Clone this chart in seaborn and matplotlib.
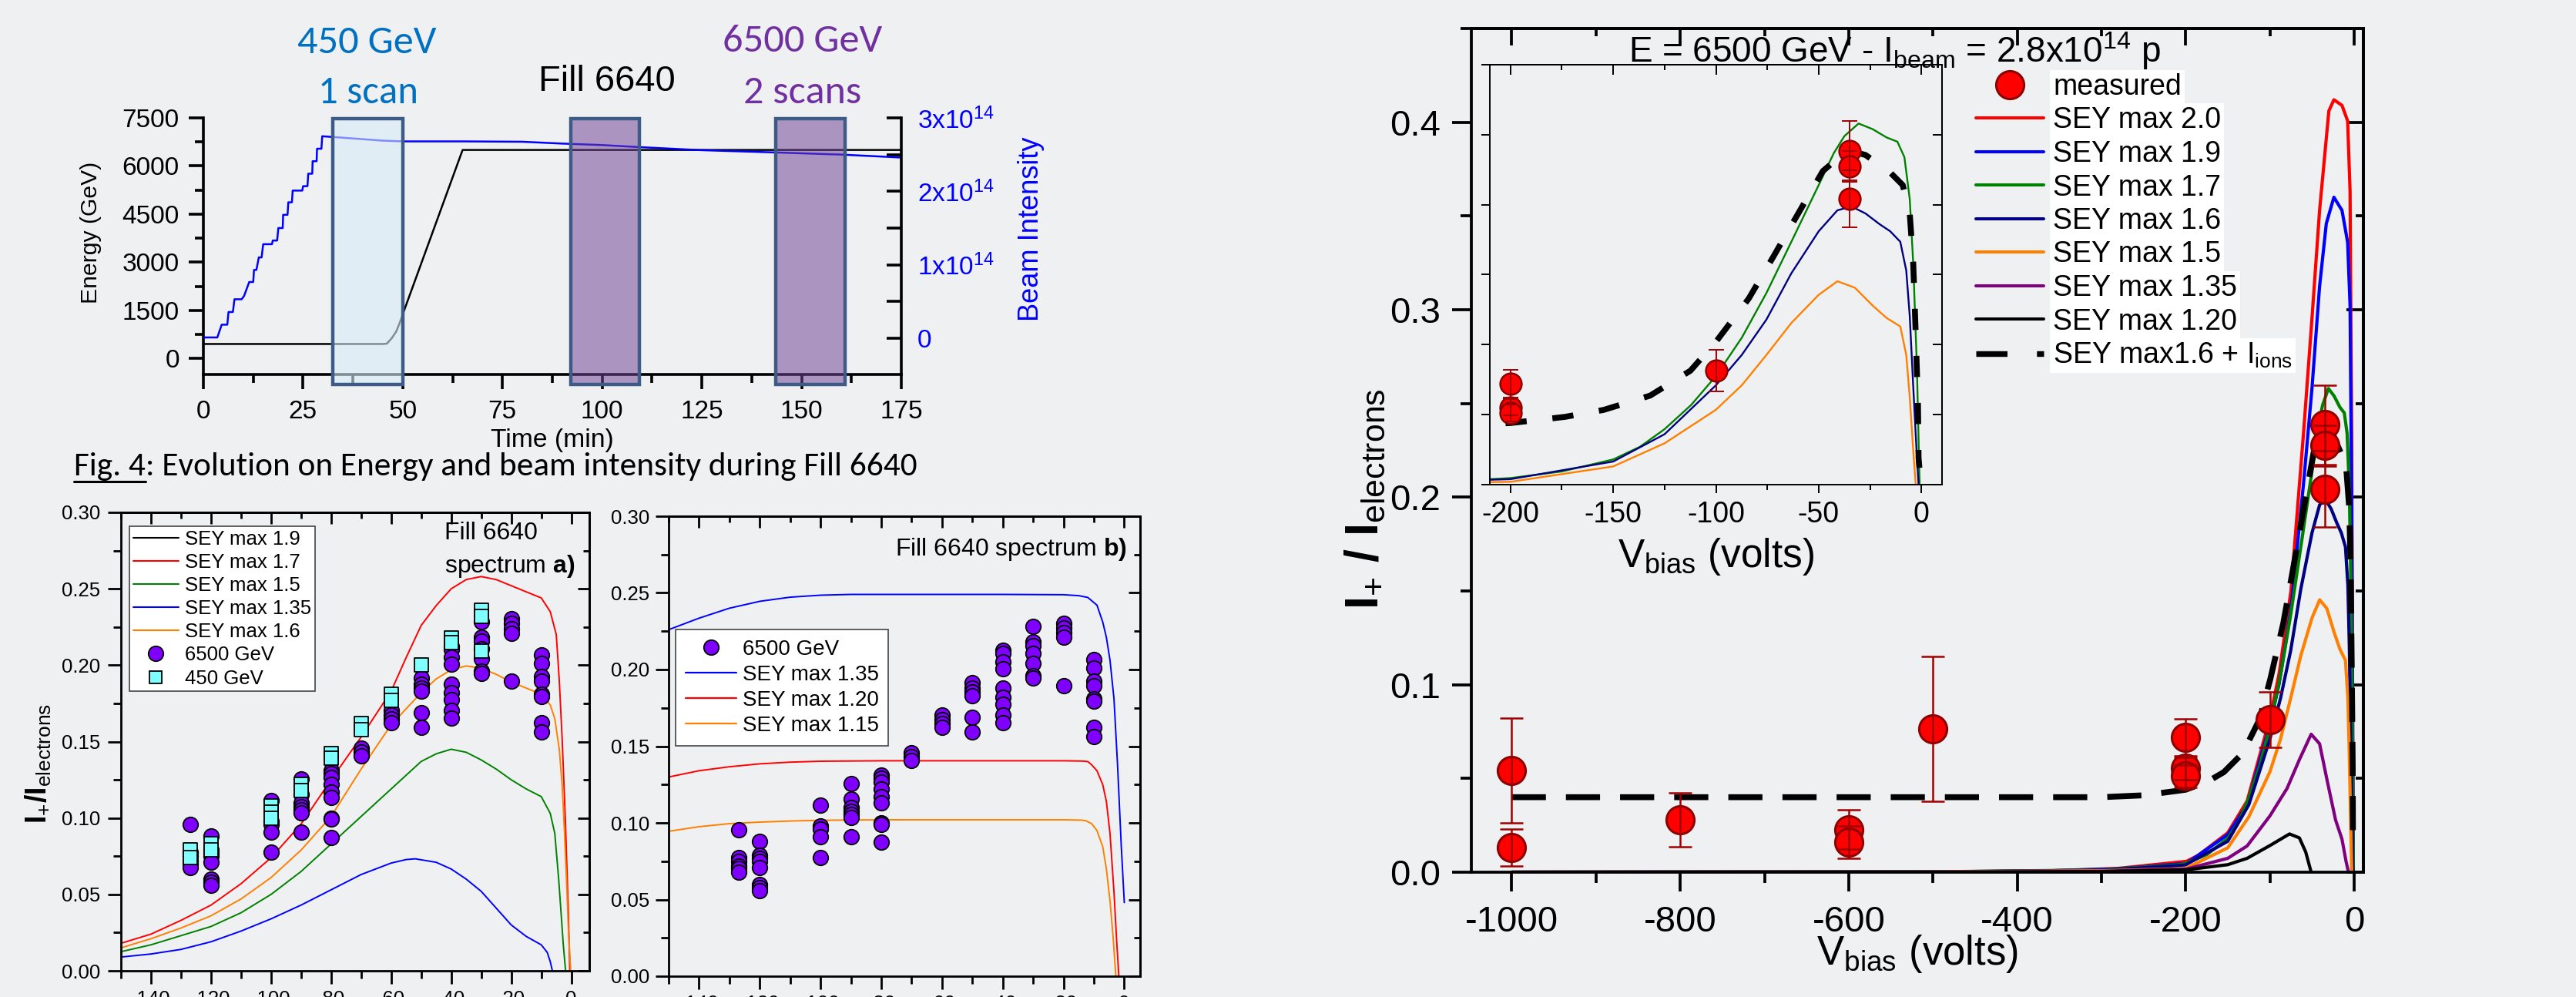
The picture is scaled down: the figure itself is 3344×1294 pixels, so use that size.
import numpy as np
import pandas as pd
import matplotlib
matplotlib.use('Agg')
import matplotlib.pyplot as plt
import seaborn as sns
from matplotlib import font_manager
from matplotlib.lines import Line2D
from matplotlib.patches import Rectangle
from matplotlib.ticker import MultipleLocator, FuncFormatter

# ======================= DATA =======================
# Fig. 4 (top-left): Fill 6640, energy and beam intensity vs time
energy_time_min = [0, 45, 46, 47.3, 48.4, 49.2, 50, 65, 175]
energy_gev = [450, 450, 460, 640, 850, 1100, 1380, 6500, 6500]
intensity_time_min = [0, 3.5, 4.6, 6.0, 6.3, 7.4, 7.8, 9.6, 10.2, 11.5,
                      12.5, 12.7, 13.3, 13.9, 14.6, 15.0, 17.2, 17.4, 18.5, 18.8,
                      19.9, 20.0, 21.1, 21.3, 22.2, 22.4, 24.8, 25.0, 26.1, 26.3,
                      27.3, 27.4, 28.4, 28.5, 29.6, 29.8, 35, 45, 50, 65,
                      80, 90, 100, 110, 125, 143, 160, 175]
intensity_1e14 = [0.01, 0.01, 0.184, 0.184, 0.356, 0.356, 0.53, 0.53, 0.575, 0.765,
                  0.765, 0.93, 0.93, 1.10, 1.10, 1.28, 1.28, 1.33, 1.33, 1.50,
                  1.50, 1.68, 1.68, 1.85, 1.85, 2.01, 2.01, 2.07, 2.07, 2.24,
                  2.24, 2.41, 2.41, 2.58, 2.58, 2.75, 2.73, 2.69, 2.68, 2.68,
                  2.675, 2.65, 2.63, 2.60, 2.56, 2.53, 2.50, 2.46]
scan_450_window = (32.4, 50.0)
scan_6500_windows = [(92.2, 109.4), (143.5, 160.9)]

# Spectra a) and b): measured 6500 GeV points (same scans in both)
pts6500_v = [-127, -127, -127, -127, -127, -127,
             -120, -120, -120, -120, -120, -120, -120, -120,
             -100, -100, -100, -100, -100,
             -90, -90, -90, -90, -90, -90, -90,
             -80, -80, -80, -80, -80, -80, -80, -80, -80,
             -70, -70, -70,
             -60, -60, -60, -60,
             -50, -50, -50, -50, -50, -50,
             -40, -40, -40, -40, -40, -40, -40, -40, -40,
             -30, -30, -30, -30, -30, -30, -30,
             -20, -20, -20, -20, -20,
             -10, -10, -10, -10, -10, -10, -10, -10]
pts6500_y = [0.0957, 0.0776, 0.075, 0.072, 0.0703, 0.0678,
             0.088, 0.079, 0.077, 0.075, 0.071, 0.060, 0.058, 0.056,
             0.1116, 0.098, 0.096, 0.091, 0.0776,
             0.1257, 0.1156, 0.110, 0.1076, 0.1055, 0.1034, 0.091,
             0.131, 0.129, 0.1265, 0.122, 0.117, 0.1133, 0.100, 0.0992, 0.0873,
             0.1458, 0.143, 0.1405,
             0.1706, 0.1674, 0.1647, 0.1622,
             0.1915, 0.1877, 0.1852, 0.1831, 0.169, 0.1594,
             0.2125, 0.2104, 0.2052, 0.2006, 0.1877, 0.182, 0.1775, 0.1706, 0.1653,
             0.2282, 0.2182, 0.2157, 0.2108, 0.2041, 0.1961, 0.1947,
             0.2303, 0.2272, 0.224, 0.2209, 0.1894,
             0.2066, 0.201, 0.1926, 0.1894, 0.181, 0.1794, 0.1622, 0.1565]
pts450_v = [-127, -127, -120, -120, -100, -100, -100, -90, -90, -80, -80,
            -70, -70, -60, -60, -50, -40, -40, -30, -30, -30]
pts450_y = [0.079, 0.074, 0.083, 0.079, 0.108, 0.104, 0.100, 0.122, 0.118, 0.142, 0.139,
            0.162, 0.158, 0.181, 0.177, 0.200, 0.218, 0.215, 0.236, 0.232, 0.209]

# spectrum a) simulations
a17_v = [-150, -140, -130, -120, -110, -100, -90, -80, -70, -60, -55, -50, -45, -40,
         -35, -30, -25, -20, -15, -10, -7, -5, -4, -3, -2, -1, -0.5]
a17_y = [0.018, 0.024, 0.033, 0.043, 0.057, 0.074, 0.096, 0.125, 0.153, 0.183, 0.205,
         0.226, 0.239, 0.250, 0.256, 0.258, 0.256, 0.252, 0.248, 0.244, 0.235, 0.22,
         0.19, 0.15, 0.10, 0.04, 0.0]
a16_v = [-150, -140, -130, -120, -110, -100, -90, -80, -70, -60, -50, -45, -40, -35,
         -30, -25, -20, -15, -10, -7, -5.5, -4, -3, -2.3, -1.5, -1, -0.2]
a16_y = [0.015, 0.021, 0.028, 0.036, 0.047, 0.061, 0.079, 0.101, 0.132, 0.161, 0.182,
         0.191, 0.197, 0.1995, 0.198, 0.194, 0.189, 0.185, 0.181, 0.174, 0.165, 0.145,
         0.12, 0.092, 0.055, 0.029, 0.0]
a15_v = [-150, -140, -130, -120, -110, -100, -90, -80, -70, -60, -50, -45, -40, -35,
         -30, -25, -20, -15, -10, -7, -5.5, -4.2, -3.3, -2.7, -1.9]
a15_y = [0.0125, 0.017, 0.023, 0.029, 0.038, 0.050, 0.065, 0.083, 0.101, 0.119, 0.137,
         0.142, 0.145, 0.143, 0.138, 0.132, 0.125, 0.119, 0.114, 0.103, 0.09, 0.06,
         0.035, 0.018, 0.0]
a135_v = [-150, -140, -130, -120, -110, -100, -90, -80, -70, -60, -55, -52, -45, -40,
          -35, -30, -25, -20, -15, -10, -8, -7, -6.3]
a135_y = [0.009, 0.011, 0.014, 0.019, 0.026, 0.034, 0.043, 0.053, 0.063, 0.0705, 0.0728,
          0.0733, 0.071, 0.0666, 0.060, 0.052, 0.041, 0.030, 0.0225, 0.017, 0.012,
          0.006, 0.0]

# spectrum b) simulations
b135_v = [-150, -140, -130, -120, -110, -100, -90, -80, -60, -40, -20, -15, -12, -9,
          -7.1, -5.9, -4.7, -3.4, -2.2, -1.0, 0]
b135_y = [0.226, 0.2335, 0.2400, 0.2445, 0.2472, 0.2485, 0.249, 0.249, 0.249, 0.249,
          0.2488, 0.2482, 0.247, 0.242, 0.231, 0.221, 0.206, 0.181, 0.137, 0.085, 0.048]
b120_v = [-150, -140, -130, -120, -110, -100, -80, -60, -40, -20, -14, -12, -10.8, -9,
          -7.1, -5.9, -4.7, -3.4, -2.6, -1.8]
b120_y = [0.1299, 0.134, 0.1366, 0.1385, 0.1396, 0.1402, 0.1405, 0.1405, 0.1405, 0.1405,
          0.1403, 0.140, 0.138, 0.134, 0.125, 0.114, 0.093, 0.055, 0.026, 0.0]
b115_v = [-150, -140, -130, -120, -110, -100, -80, -60, -40, -20, -14, -12.6, -10.8, -9,
          -7.1, -5.9, -4.7, -3.7, -2.8]
b115_y = [0.0945, 0.0975, 0.0995, 0.1005, 0.1012, 0.1017, 0.102, 0.102, 0.102, 0.102,
          0.1018, 0.1013, 0.0996, 0.095, 0.0845, 0.070, 0.049, 0.026, 0.0]

# right panel: E = 6500 GeV simulations
m20_v = [-1000, -500, -377, -281, -199, -185, -150, -127, -100, -89, -75, -60, -50, -41,
         -30, -24, -14.4, -7.7, -4.8, -2.9, -1.0]
m20_y = [0.0, 0.0002, 0.0005, 0.002, 0.0058, 0.009, 0.021, 0.038, 0.082, 0.106, 0.150,
         0.2346, 0.2956, 0.353, 0.406, 0.412, 0.409, 0.4007, 0.363, 0.228, 0.0]
m19_v = [-1000, -500, -377, -281, -199, -150, -127, -100, -89, -75, -60, -50, -41, -33,
         -24, -14.4, -7.7, -4.8, -2.9, -1.0]
m19_y = [0.0, 0.0002, 0.0005, 0.0018, 0.0047, 0.020, 0.036, 0.0786, 0.1006, 0.140,
         0.2075, 0.2583, 0.3125, 0.346, 0.360, 0.353, 0.336, 0.302, 0.194, 0.0]
m17_v = [-1000, -500, -300, -210, -200, -175, -150, -137, -125, -112, -100, -87.4, -75.4,
         -63.3, -50, -42.7, -37.5, -30.6, -23.8, -16.9, -11.7, -8.3, -5.7, -4.0, -2.2,
         -1.4, -0.9]
m17_y = [0.0, 0.0002, 0.0012, 0.0039, 0.0047, 0.0094, 0.018, 0.027, 0.0396, 0.057, 0.0776,
         0.105, 0.137, 0.1735, 0.214, 0.2367, 0.249, 0.258, 0.254, 0.248, 0.245, 0.234,
         0.204, 0.158, 0.083, 0.032, 0.0]
m16_v = [-1000, -500, -300, -210, -200, -150, -125, -100, -87.4, -75.4, -63.3, -50, -40.9,
         -34, -27.2, -20.3, -15.2, -10.3, -7.4, -5.7, -4.0, -2.2, -1.4]
m16_y = [0.0, 0.0002, 0.001, 0.0035, 0.0039, 0.0165, 0.036, 0.071, 0.0927, 0.118, 0.151,
         0.181, 0.196, 0.1987, 0.1937, 0.186, 0.181, 0.1735, 0.153, 0.1205, 0.070, 0.019,
         0.0]
m15_v = [-1000, -500, -300, -210, -200, -150, -125, -100, -87.4, -75.4, -63.3, -50, -40.9,
         -32.4, -23.8, -16.9, -10.3, -7.4, -5.7, -4.0, -2.8]
m15_y = [0.0, 0.0001, 0.0008, 0.0018, 0.002, 0.013, 0.0295, 0.0535, 0.071, 0.0927, 0.1155,
         0.1356, 0.1453, 0.1407, 0.128, 0.119, 0.113, 0.0927, 0.0624, 0.0244, 0.0]
m135_v = [-1000, -500, -300, -199, -150, -127, -100, -79.6, -65, -51, -41, -31.6, -22,
          -14.4, -9.6, -6.7]
m135_y = [0.0, 0.0, 0.0005, 0.0017, 0.0074, 0.014, 0.030, 0.0447, 0.060, 0.0736, 0.0685,
          0.048, 0.0278, 0.0176, 0.0058, 0.0]
m120_v = [-1000, -500, -300, -199, -150, -127, -100, -76.7, -65, -57.5, -51]
m120_y = [0.0, 0.0, 0.0003, 0.0013, 0.004, 0.0074, 0.0142, 0.0204, 0.0183, 0.0108, 0.0]
mions_v = [-1000, -300, -250, -208, -200, -173.5, -154.6, -132, -112.4, -99.5, -84, -72,
           -58, -48, -36, -27.2, -15.2, -9.1, -5.7, -4.0, -2.8, -1.7, -1.4, -1.0]
mions_y = [0.040, 0.040, 0.041, 0.0435, 0.044, 0.0484, 0.0534, 0.0636, 0.0814, 0.103,
           0.133, 0.163, 0.1987, 0.224, 0.239, 0.2355, 0.223, 0.214, 0.1937, 0.158,
           0.108, 0.057, 0.019, 0.012]
meas_v = [-1000, -1000, -800, -600, -600, -500, -200, -200, -200, -100, -35, -35, -35]
meas_y = [0.0542, 0.0132, 0.028, 0.0227, 0.016, 0.0765, 0.072, 0.0553, 0.0512, 0.0814,
          0.2386, 0.2275, 0.2043]
meas_err = [0.028, 0.0099, 0.0143, 0.0105, 0.0087, 0.0385, 0.0098, 0.006, 0.006, 0.0149,
            0.021, 0.011, 0.0203]

# ======================= STYLE =======================
sns.set_theme(style='ticks')
avail = {f.name for f in font_manager.fontManager.ttflist}


def pick(*names):
    for n in names:
        if n in avail:
            return n
    return 'DejaVu Sans'


ARIAL = pick('Liberation Sans', 'Arimo', 'DejaVu Sans')
CAL = pick('Carlito', 'Lato', 'Open Sans', ARIAL)
NARROW = pick('Liberation Sans Narrow', ARIAL)
plt.rcParams.update({
    'font.family': [ARIAL, 'DejaVu Sans'],
    'mathtext.fontset': 'custom', 'mathtext.rm': ARIAL, 'mathtext.it': ARIAL + ':italic',
    'mathtext.bf': ARIAL + ':bold', 'mathtext.sf': ARIAL,
    'axes.unicode_minus': False, 'text.color': 'black', 'axes.edgecolor': 'black',
    'xtick.color': 'black', 'ytick.color': 'black', 'axes.labelcolor': 'black',
})

BG = '#eff0f2'
W, H = 3344, 1294
fig = plt.figure(figsize=(W / 100, H / 100), dpi=100, facecolor=BG)
R = fig.canvas.get_renderer()


def fbox(l, t, r, b):
    return [l / W, 1 - b / H, (r - l) / W, (b - t) / H]


def fit(x, y, s, target, rot=0, **kw):
    t = fig.text(x / W, 1 - y / H, s, fontsize=20, rotation=rot, **kw)
    bb = t.get_window_extent(R)
    size = bb.height if rot == 90 else bb.width
    t.set_fontsize(20 * target / size)
    return t


def line(ax, v, y, color, lw, ls='-', z=2):
    sns.lineplot(x=v, y=y, ax=ax, color=color, linewidth=lw, linestyle=ls, sort=False,
                 estimator=None, legend=False, zorder=z)


def frame(ax, xmaj, xmin, ymaj, ymin, lw, outl, inl, size, xpad, ypad):
    ax.set_facecolor(BG)
    ax.set_xlabel('')
    ax.set_ylabel('')
    ax.xaxis.set_major_locator(MultipleLocator(xmaj))
    ax.xaxis.set_minor_locator(MultipleLocator(xmin))
    ax.yaxis.set_major_locator(MultipleLocator(ymaj))
    ax.yaxis.set_minor_locator(MultipleLocator(ymin))
    ax.tick_params(which='both', direction='out', width=lw, top=False, right=False,
                   labelsize=size, colors='black')
    ax.tick_params(which='major', length=outl[0])
    ax.tick_params(which='minor', length=outl[1])
    ax.tick_params(axis='x', pad=xpad)
    ax.tick_params(axis='y', pad=ypad)
    for s in ax.spines.values():
        s.set_visible(True)
        s.set_linewidth(lw)
        s.set_color('black')
    sx = ax.secondary_xaxis('top')
    sx.xaxis.set_major_locator(MultipleLocator(xmaj))
    sx.xaxis.set_minor_locator(MultipleLocator(xmin))
    sx.tick_params(which='both', direction='in', width=lw, labeltop=False)
    sx.tick_params(which='major', length=inl[0])
    sx.tick_params(which='minor', length=inl[1])
    sx.spines['top'].set_linewidth(lw)
    sy = ax.secondary_yaxis('right')
    sy.yaxis.set_major_locator(MultipleLocator(ymaj))
    sy.yaxis.set_minor_locator(MultipleLocator(ymin))
    sy.tick_params(which='both', direction='in', width=lw, labelright=False)
    sy.tick_params(which='major', length=inl[0])
    sy.tick_params(which='minor', length=inl[1])
    sy.spines['right'].set_linewidth(lw)


# ======================= TOP-LEFT: time evolution =======================
ax1 = fig.add_axes(fbox(264, 153, 1170, 486))
ax1.set_facecolor(BG)
line(ax1, energy_time_min, energy_gev, 'black', 1.8)
ax1.set_xlabel('')
ax1.set_ylabel('')
ax1.xaxis.set_major_locator(MultipleLocator(25))
ax1.xaxis.set_minor_locator(MultipleLocator(12.5))
ax1.yaxis.set_major_locator(MultipleLocator(1500))
ax1.yaxis.set_minor_locator(MultipleLocator(750))
ax1.tick_params(which='both', direction='out', width=2.6, labelsize=24, right=False, top=False)
ax1.tick_params(which='major', length=13.5)
ax1.tick_params(which='minor', length=8)
ax1.tick_params(axis='x', pad=10)
ax1.tick_params(axis='y', pad=9)
for s in ['left', 'bottom']:
    ax1.spines[s].set_linewidth(2.6)
ax1.spines['top'].set_visible(False)
ax1.spines['right'].set_visible(False)

ax2 = ax1.twinx()
line(ax2, intensity_time_min, np.array(intensity_1e14) * 1e14, '#0000ff', 1.8)
ax2.set_ylabel('')
ax2.yaxis.set_major_locator(MultipleLocator(1e14))
ax2.yaxis.set_minor_locator(MultipleLocator(0.5e14))
ax2.yaxis.set_major_formatter(FuncFormatter(
    lambda v, p: '0' if abs(v) < 1e10 else r'%dx10$^{14}$' % round(v / 1e14)))
ax2.tick_params(axis='y', which='both', direction='in', width=2.6, length=13.5,
                labelsize=24, labelcolor='#0000ff', pad=15)
for s in ['top', 'left', 'bottom']:
    ax2.spines[s].set_visible(False)
ax2.spines['right'].set_linewidth(2.6)


def scan_box(t0, t1, fc, alpha):
    ax2.add_patch(Rectangle((t0, -810), t1 - t0, 7475 + 810, transform=ax1.transData,
                            facecolor=fc, alpha=alpha, edgecolor='none', clip_on=False, zorder=5))
    ax2.add_patch(Rectangle((t0, -810), t1 - t0, 7475 + 810, transform=ax1.transData,
                            fill=False, edgecolor='#3c5c87', linewidth=3.2, clip_on=False, zorder=6))


scan_box(scan_450_window[0], scan_450_window[1], '#d7ebf6', 0.6)
for w0, w1 in scan_6500_windows:
    scan_box(w0, w1, '#714297', 0.53)
ax1.set_xlim(0, 175)
ax1.set_ylim(-500, 7500)
ax2.set_ylim(-0.494e14, 3e14)

fit(476, 55, '450 GeV', 180, color='#0070c0', family=CAL, ha='center', va='center')
fit(478, 120, '1 scan', 130, color='#0070c0', family=CAL, ha='center', va='center')
fit(1042, 53, '6500 GeV', 207, color='#7030a0', family=CAL, ha='center', va='center')
fit(1042, 120, '2 scans', 153, color='#7030a0', family=CAL, ha='center', va='center')
fit(788, 106, 'Fill 6640', 178, color='black', family=NARROW, ha='center', va='center')
fit(118, 302, 'Energy (GeV)', 184, rot=90, ha='center', va='center')
fit(1338, 297, 'Beam Intensity', 239, rot=90, color='#0000ff', ha='center', va='center')
fit(717, 572, 'Time (min)', 160, family=NARROW, ha='center', va='center')

# caption with underlined "Fig. 4"
cap_full = 'Fig. 4: Evolution on Energy and beam intensity during Fill 6640'
tmp = fig.text(0, 0, cap_full, fontsize=30, family=CAL)
cfs = 30 * 1092 / tmp.get_window_extent(R).width
tmp.remove()
c1 = fig.text(96 / W, 1 - 617 / H, 'Fig. 4', fontsize=cfs, family=CAL, va='baseline')
bb1 = c1.get_window_extent(R)
fig.text(bb1.x1 / W, 1 - 617 / H, cap_full[6:], fontsize=cfs, family=CAL, va='baseline')
fig.add_artist(Line2D([bb1.x0 / W, bb1.x1 / W], [1 - 625 / H] * 2, color='black', lw=2.2,
                      transform=fig.transFigure))

# ======================= SPECTRUM a) =======================
axa = fig.add_axes(fbox(157, 665, 765, 1260))
line(axa, a17_v, a17_y, '#ff0000', 1.4)
line(axa, a15_v, a15_y, '#008000', 1.4)
line(axa, a135_v, a135_y, '#0000ff', 1.4)
line(axa, a16_v, a16_y, '#ff8000', 1.4)
sns.scatterplot(x=pts6500_v, y=pts6500_y, ax=axa, s=196, color='#8000ff', edgecolor='black',
                linewidth=1.3, zorder=4, legend=False)
sns.scatterplot(x=pts450_v, y=pts450_y, ax=axa, marker='s', s=150, color='#80ffff',
                edgecolor='black', linewidth=1.3, zorder=5, legend=False)
axa.set_xlim(-150, 6)
axa.set_ylim(0, 0.30)
frame(axa, 20, 10, 0.05, 0.025, 2.0, (12, 7), (11, 6), 18.5, 6, 7)
axa.yaxis.set_major_formatter(FuncFormatter(lambda v, p: '%.2f' % v))
ha = [Line2D([], [], color='black', lw=1.5), Line2D([], [], color='#ff0000', lw=1.5),
      Line2D([], [], color='#008000', lw=1.5), Line2D([], [], color='#0000ff', lw=1.5),
      Line2D([], [], color='#ff8000', lw=1.5),
      Line2D([], [], marker='o', ls='none', markersize=14, mfc='#8000ff', mec='black', mew=1.3),
      Line2D([], [], marker='s', ls='none', markersize=12, mfc='#80ffff', mec='black', mew=1.3)]
la = axa.legend(ha, ['SEY max 1.9', 'SEY max 1.7', 'SEY max 1.5', 'SEY max 1.35',
                     'SEY max 1.6', '6500 GeV', '450 GeV'],
                loc='upper left', bbox_to_anchor=(168 / W, 1 - 683 / H),
                bbox_transform=fig.transFigure, fontsize=18.5, frameon=True, fancybox=False,
                framealpha=1, edgecolor='#444444', borderpad=0.18, handlelength=2.3,
                handletextpad=0.34, labelspacing=0.24, borderaxespad=0)
la.get_frame().set_linewidth(1.2)
fig.text(577 / W, 1 - 692 / H, 'Fill 6640', fontsize=23, va='center')
fig.text(577 / W, 1 - 735 / H, r'spectrum $\mathbf{a)}$', fontsize=23, va='center')
fig.text(50 / W, 1 - 991 / H, r'I$_{+}$/I$_{\rm electrons}$', fontsize=27, fontweight='bold',
         rotation=90, ha='center', va='center')

# ======================= SPECTRUM b) =======================
axb = fig.add_axes(fbox(868, 670, 1480, 1267))
line(axb, b135_v, b135_y, '#0000ff', 1.4)
line(axb, b120_v, b120_y, '#ff0000', 1.4)
line(axb, b115_v, b115_y, '#ff8000', 1.4)
sns.scatterplot(x=pts6500_v, y=pts6500_y, ax=axb, s=196, color='#8000ff', edgecolor='black',
                linewidth=1.3, zorder=4, legend=False)
axb.set_xlim(-150, 5.2)
axb.set_ylim(0, 0.30)
frame(axb, 20, 10, 0.05, 0.025, 2.0, (12, 7), (11, 6), 18.5, 5, 6)
axb.yaxis.set_major_formatter(FuncFormatter(lambda v, p: '%.2f' % v))
hb = [Line2D([], [], marker='o', ls='none', markersize=14, mfc='#8000ff', mec='black', mew=1.3),
      Line2D([], [], color='#0000ff', lw=1.6), Line2D([], [], color='#ff0000', lw=1.6),
      Line2D([], [], color='#ff8000', lw=1.6)]
lb = axb.legend(hb, ['6500 GeV', 'SEY max 1.35', 'SEY max 1.20', 'SEY max 1.15'],
                loc='upper left', bbox_to_anchor=(877 / W, 1 - 817 / H),
                bbox_transform=fig.transFigure, fontsize=20, frameon=True, fancybox=False,
                framealpha=1, edgecolor='#444444', borderpad=0.45, handlelength=2.4,
                handletextpad=0.27, labelspacing=0.26, borderaxespad=0)
lb.get_frame().set_linewidth(1.2)
fig.text(1463 / W, 1 - 713 / H, r'Fill 6640 spectrum $\mathbf{b)}$', fontsize=23,
         ha='right', va='center')

# ======================= RIGHT: E = 6500 GeV =======================
axm = fig.add_axes(fbox(1910, 37, 3068, 1132))
MLW = 3.0
line(axm, m20_v, m20_y, '#ff0000', MLW)
line(axm, m19_v, m19_y, '#0000ff', MLW)
line(axm, m17_v, m17_y, '#008000', MLW)
line(axm, m16_v, m16_y, '#000080', MLW)
line(axm, m15_v, m15_y, '#ff8000', MLW)
line(axm, m135_v, m135_y, '#800080', MLW)
line(axm, m120_v, m120_y, 'black', MLW)
line(axm, mions_v, mions_y, 'black', 5.5, ls=(0, (5.8, 3.4)), z=3)
sns.scatterplot(x=meas_v, y=meas_y, ax=axm, s=26 ** 2, color='#ff0000', edgecolor='#8b0000',
                linewidth=2.2, zorder=5, legend=False)
axm.errorbar(meas_v, meas_y, yerr=meas_err, fmt='none', ecolor='#a00000', elinewidth=1.8,
             capsize=11, capthick=1.8, zorder=6)
axm.set_xlim(-1048, 11)
axm.set_ylim(0, 0.45)
frame(axm, 200, 100, 0.1, 0.05, 2.7, (18, 10), (15.5, 7), 34, 13, 10.5)
axm.yaxis.set_major_formatter(FuncFormatter(lambda v, p: '%.1f' % v))
hm = [Line2D([], [], marker='o', ls='none', markersize=26, mfc='#ff0000', mec='#8b0000', mew=2.2)]
hm += [Line2D([], [], color=c, lw=2.9) for c in
       ['#ff0000', '#0000ff', '#008000', '#000080', '#ff8000', '#800080', 'black']]
hm += [Line2D([], [], color='black', lw=5.3, ls=(0, (5.5, 5.2)))]
lm = axm.legend(hm, ['measured', 'SEY max 2.0', 'SEY max 1.9', 'SEY max 1.7', 'SEY max 1.6',
                     'SEY max 1.5', 'SEY max 1.35', 'SEY max 1.20',
                     r'SEY max1.6 + I$_{\rm ions}$'],
                loc='upper left', bbox_to_anchor=(2565 / W, 1 - 95 / H),
                bbox_transform=fig.transFigure, fontsize=27, frameon=False, borderpad=0,
                borderaxespad=0, handlelength=2.35, handletextpad=0.32, labelspacing=0.2)
for t in lm.get_texts():
    t.set_bbox(dict(facecolor='white', edgecolor='none', pad=3))
fig.text(1773 / W, 1 - 648 / H, r'I$_{+}$ / I$_{\rm electrons}$', fontsize=44,
         fontweight='bold', rotation=90, ha='center', va='center')
fig.text(2489 / W, 1 - 1238 / H, r'V$_{\rm bias}$ (volts)', fontsize=38, ha='center', va='center')

# inset
axi = fig.add_axes(fbox(1934, 84, 2521, 629))
ILW = 1.7
line(axi, m17_v, m17_y, '#008000', ILW)
line(axi, m16_v, m16_y, '#000080', ILW)
line(axi, m15_v, m15_y, '#ff8000', ILW)
line(axi, mions_v, mions_y, 'black', 5.5, ls=(0, (3.6, 4.4)), z=3)
sns.scatterplot(x=meas_v, y=meas_y, ax=axi, s=20 ** 2, color='#ff0000', edgecolor='#8b0000',
                linewidth=1.8, zorder=5, legend=False)
axi.errorbar(meas_v, meas_y, yerr=meas_err, fmt='none', ecolor='#a00000', elinewidth=1.4,
             capsize=7, capthick=1.4, zorder=6)
axi.set_xlim(-210, 10)
axi.set_ylim(0, 0.30)
frame(axi, 50, 25, 0.05, 0.05, 1.4, (8, 5), (9, 5), 27, 7, 5)
axi.tick_params(axis='y', labelleft=False)
fig.text(2228 / W, 1 - 722 / H, r'V$_{\rm bias}$ (volts)', fontsize=37, ha='center', va='center')
fig.text(2459 / W, 1 - 66 / H, r'E = 6500 GeV - I$_{\rm beam}$ = 2.8x10$^{14}$ p',
         fontsize=33, ha='center', va='center')

fig.savefig('out.png', dpi=100, facecolor=BG)
